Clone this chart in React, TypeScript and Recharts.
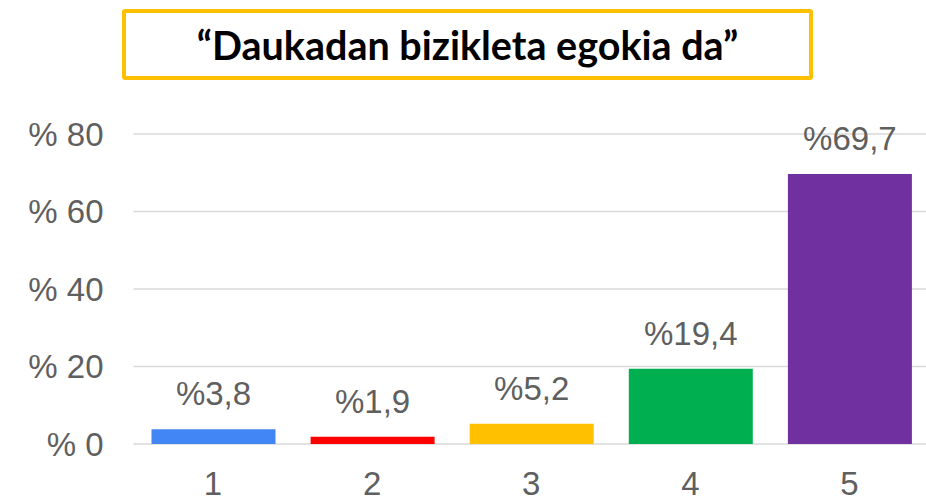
import { Bar, BarChart, CartesianGrid, Cell, LabelList, XAxis, YAxis } from "recharts"

const categories = ['1', '2', '3', '4', '5'];
const values = [3.8, 1.9, 5.2, 19.4, 69.7];
const yTicks = [0, 20, 40, 60, 80];
const title = '“Daukadan bizikleta egokia da”';

// bar colours, one per answer
const COLORS = ['#4285F4', '#FF0000', '#FFC000', '#00B050', '#7030A0'];

const data = categories.map((name, i) => ({ name, value: values[i] }));

const GRAY = '#5f5f5f';
const FONT = '"Liberation Sans", Arial, sans-serif';

export default function App() {
  return (
    <div style={{ position: 'absolute', left: 0, top: 0, width: 926, height: 499, overflow: 'hidden', background: '#fff' }}>
      <div
        style={{
          position: 'absolute',
          left: 122,
          top: 9,
          width: 691,
          height: 71,
          boxSizing: 'border-box',
          border: '4px solid #FFC000',
          borderRadius: 3,
          display: 'flex',
          alignItems: 'center',
          justifyContent: 'center',
          fontFamily: 'Lato, "Open Sans", sans-serif',
          fontWeight: 700,
          fontSize: 39.5,
          color: '#000',
        }}
      >
        {title}
      </div>
      <div style={{ position: 'absolute', left: 0, top: 0 }}>
        <BarChart
          width={929}
          height={499}
          data={data}
          margin={{ top: 134, right: 0, left: 0, bottom: 25 }}
        >
          <CartesianGrid vertical={false} stroke="#d9d9d9" strokeWidth={1.5} />
          <XAxis
            dataKey="name"
            axisLine={false}
            tickLine={false}
            tickSize={0}
            tickMargin={28}
            height={30}
            tick={{ fill: GRAY, fontSize: 33, fontFamily: FONT }}
          />
          <YAxis
            domain={[0, 80]}
            ticks={yTicks}
            width={133.5}
            axisLine={false}
            tickLine={false}
            tickSize={0}
            tickMargin={30}
            tickFormatter={(v) => `% ${v}`}
            tick={{ fill: GRAY, fontSize: 33, fontFamily: FONT }}
          />
          <Bar dataKey="value" barSize={124} isAnimationActive={false}>
            {data.map((entry, index) => (
              <Cell key={`cell-${index}`} fill={COLORS[index % COLORS.length]} />
            ))}
            <LabelList
              dataKey="value"
              position="top"
              offset={24}
              formatter={(v: any) => `%${String(v).replace('.', ',')}`}
              style={{ fill: GRAY, fontSize: 33, fontFamily: FONT }}
            />
          </Bar>
        </BarChart>
      </div>
    </div>
  )
}
